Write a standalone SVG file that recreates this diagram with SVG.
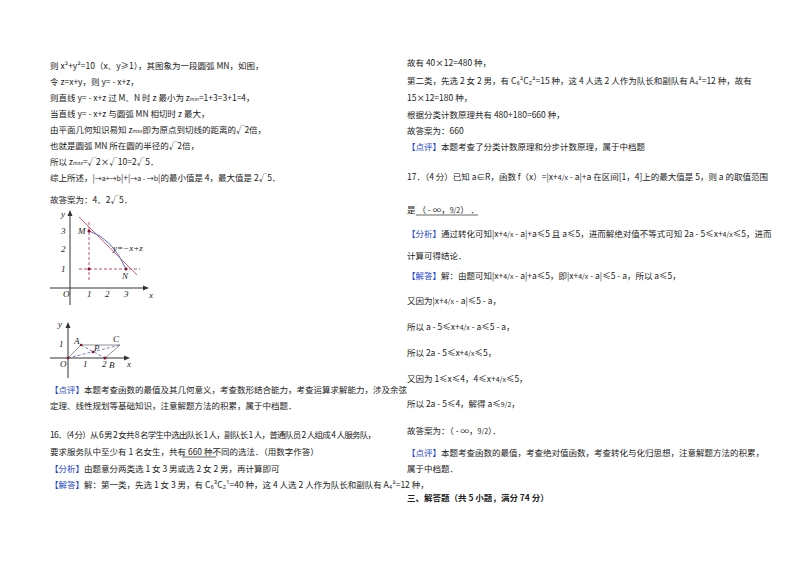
<svg xmlns="http://www.w3.org/2000/svg" width="800" height="566" viewBox="0 0 800 566">
<style>
text{font-family:"Noto Sans CJK SC","Liberation Sans",sans-serif;font-size:8.5px;fill:#222}
.b{fill:#1a3fcf}
.f{font-size:7px}
.it{font-family:"Liberation Serif",serif;font-style:italic;font-size:9px}
.ax{stroke:#333;stroke-width:1;fill:none}
.d{stroke:#c05080;stroke-width:1;stroke-dasharray:3 2;fill:none}
.bd{stroke:#5060b0;stroke-width:0.8;stroke-dasharray:3 2;fill:none}
</style>
<rect width="800" height="566" fill="#fff"/>
<g id="left">
<text x="50" y="69">则 x²+y²=10（x、y≥1），其图象为一段圆弧 MN，如图，</text>
<text x="50" y="85">令 z=x+y，则 y= - x+z，</text>
<text x="50" y="101">则直线 y= - x+z 过 M、N 时 z 最小为 z<tspan font-size="5">min</tspan>=1+3=3+1=4，</text>
<text x="50" y="117">当直线 y= - x+z 与圆弧 MN 相切时 z 最大，</text>
<text x="50" y="133">由平面几何知识易知 z<tspan font-size="5">max</tspan>即为原点到切线的距离的√2倍，</text>
<text x="50" y="149">也就是圆弧 MN 所在圆的半径的√2倍，</text>
<text x="50" y="165">所以 z<tspan font-size="5">max</tspan>=√2×√10=2√5．</text>
<text x="50" y="181">综上所述，|<tspan class="f">→a+→b</tspan>|+|<tspan class="f">→a - →b</tspan>|的最小值是 4，最大值是 2√5．</text>
<text x="50" y="203">故答案为：4、2√5．</text>
<text x="50" y="393"><tspan class="b">【点评】</tspan>本题考查函数的最值及其几何意义，考查数形结合能力，考查运算求解能力，涉及余弦</text>
<text x="50" y="409">定理、线性规划等基础知识，注意解题方法的积累，属于中档题．</text>
<text x="50" y="438" textLength="326">16．（4 分）从 6 男 2 女共 8 名学生中选出队长 1 人，副队长 1 人，普通队员 2 人组成 4 人服务队，</text>
<text x="50" y="455">要求服务队中至少有 1 名女生，共有<tspan>    660    </tspan>种不同的选法．（用数字作答）</text>
<line x1="182" y1="457" x2="216" y2="457" stroke="#222" stroke-width="0.7"/>
<text x="50" y="472"><tspan class="b">【分析】</tspan>由题意分两类选 1 女 3 男或选 2 女 2 男，再计算即可</text>
<text x="50" y="488"><tspan class="b">【解答】</tspan>解：第一类，先选 1 女 3 男，有 C₆³C₂¹=40 种，这 4 人选 2 人作为队长和副队有 A₄²=12 种，</text>
</g>
<g id="graph1">
<line class="ax" x1="70" y1="305" x2="70" y2="213"/><path d="M70,210 l-2.5,6 h5z" fill="#333"/>
<line class="ax" x1="50" y1="288" x2="146" y2="288"/><path d="M149,288 l-6,-2.5 v5z" fill="#333"/>
<line class="d" x1="89" y1="222" x2="89" y2="282"/>
<line class="d" x1="79" y1="269" x2="140" y2="269"/>
<line x1="79" y1="217" x2="137" y2="275" stroke="#e06070" stroke-width="1"/>
<path d="M89,231 Q112,238 126,269" stroke="#6070d0" stroke-width="1" fill="none"/>
<circle cx="89" cy="231" r="1.5" fill="#8a1020"/><circle cx="126" cy="269" r="1.5" fill="#8a1020"/><circle cx="89" cy="269" r="1.5" fill="#8a1020"/>
<text class="it" x="61" y="217">y</text><text class="it" x="78" y="234">M</text><text class="it" x="122" y="279">N</text>
<text class="it" x="113" y="251">y=−x+z</text>
<text class="it" x="61" y="234">3</text><text class="it" x="61" y="252">2</text><text class="it" x="61" y="272">1</text>
<text class="it" x="63" y="297">O</text><text class="it" x="87" y="297">1</text><text class="it" x="105" y="297">2</text><text class="it" x="124" y="297">3</text><text class="it" x="149" y="298">x</text>
</g>
<g id="graph2">
<line class="ax" x1="68" y1="378" x2="68" y2="326"/><path d="M68,322 l-2.5,6 h5z" fill="#333"/>
<line class="ax" x1="50" y1="358" x2="127" y2="358"/><path d="M130,358 l-6,-2.5 v5z" fill="#333"/>
<polyline points="68,358 81,345 120,345 105,358" fill="none" stroke="#777" stroke-width="0.8"/>
<line class="bd" x1="68" y1="358" x2="120" y2="345"/><line class="bd" x1="81" y1="345" x2="105" y2="358"/>
<circle cx="81" cy="345" r="1.3" fill="#8a1020"/><circle cx="93" cy="352" r="1.3" fill="#8a1020"/><circle cx="105" cy="358" r="1.5" fill="#8a1020"/><circle cx="68" cy="358" r="1.3" fill="#8a1020"/>
<text class="it" x="58" y="327">y</text><text class="it" x="59" y="347">1</text><text class="it" x="74" y="344">A</text><text class="it" x="113" y="342">C</text><text class="it" x="94" y="351">P</text>
<text class="it" x="60" y="367">O</text><text class="it" x="83" y="367">1</text><text class="it" x="102" y="367">2</text><text class="it" x="109" y="368">B</text><text class="it" x="127" y="367">x</text>
</g>
<g id="right">
<text x="407" y="66">故有 40×12=480 种，</text>
<text x="407" y="84">第二类，先选 2 女 2 男，有 C₆²C₂²=15 种，这 4 人选 2 人作为队长和副队有 A₄²=12 种，故有</text>
<text x="407" y="101">15×12=180 种，</text>
<text x="407" y="118">根据分类计数原理共有 480+180=660 种，</text>
<text x="407" y="134">故答案为：660</text>
<text x="407" y="150"><tspan class="b">【点评】</tspan>本题考查了分类计数原理和分步计数原理，属于中档题</text>
<text x="407" y="180">17．（4 分）已知 a∈R，函数 f（x）=|x+<tspan class="f">4/x</tspan> - a|+a 在区间[1，4]上的最大值是 5，则 a 的取值范围</text>
<text x="407" y="213">是<tspan>  （ - ∞，<tspan class="f">9/2</tspan>）  </tspan>．</text>
<line x1="416" y1="215" x2="478" y2="215" stroke="#222" stroke-width="0.7"/>
<text x="407" y="237"><tspan class="b">【分析】</tspan>通过转化可知|x+<tspan class="f">4/x</tspan> - a|+a≤5 且 a≤5，进而解绝对值不等式可知 2a - 5≤x+<tspan class="f">4/x</tspan>≤5，进而</text>
<text x="407" y="259">计算可得结论．</text>
<text x="407" y="279"><tspan class="b">【解答】</tspan>解：由题可知|x+<tspan class="f">4/x</tspan> - a|+a≤5，即|x+<tspan class="f">4/x</tspan> - a|≤5 - a，所以 a≤5，</text>
<text x="407" y="304">又因为|x+<tspan class="f">4/x</tspan> - a|≤5 - a，</text>
<text x="407" y="330">所以 a - 5≤x+<tspan class="f">4/x</tspan> - a≤5 - a，</text>
<text x="407" y="356">所以 2a - 5≤x+<tspan class="f">4/x</tspan>≤5，</text>
<text x="407" y="382">又因为 1≤x≤4，4≤x+<tspan class="f">4/x</tspan>≤5，</text>
<text x="407" y="407">所以 2a - 5≤4，解得 a≤<tspan class="f">9/2</tspan>，</text>
<text x="407" y="434">故答案为：（ - ∞，<tspan class="f">9/2</tspan>）．</text>
<text x="407" y="456"><tspan class="b">【点评】</tspan>本题考查函数的最值，考查绝对值函数，考查转化与化归思想，注意解题方法的积累，</text>
<text x="407" y="472">属于中档题．</text>
<text x="407" y="501" font-weight="bold">三、解答题（共 5 小题，满分 74 分）</text>
</g>
</svg>
